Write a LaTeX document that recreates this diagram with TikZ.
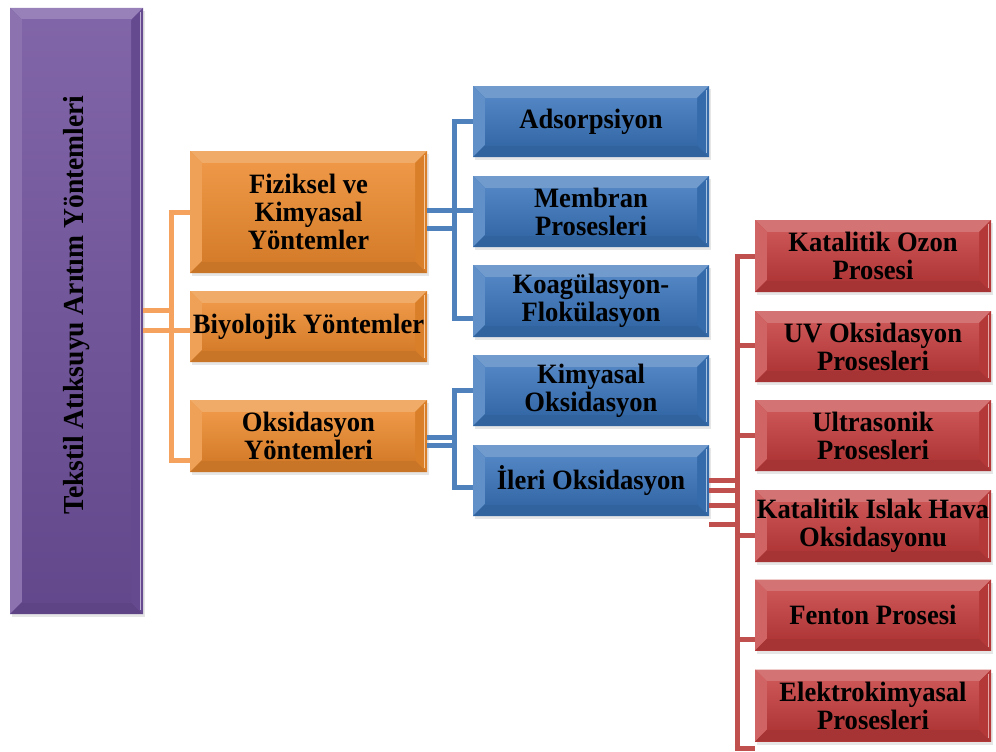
\documentclass[tikz,border=0pt]{standalone}
\usepackage{fontspec}
\newfontfamily\boxfont{Liberation Serif}[FakeStretch=0.95]
\usetikzlibrary{calc,shadows}
\definecolor{org}{HTML}{EC8A2E}
\definecolor{blu}{HTML}{3A74BA}
\definecolor{rdd}{HTML}{C43D3D}
\definecolor{pur}{HTML}{6F509C}
\definecolor{orgline}{HTML}{F5A25E}
\definecolor{bluline}{HTML}{4F81BD}
\definecolor{rddline}{HTML}{C0504D}
\tikzset{
  bev/.style={draw=none, fill=#1, inner sep=0pt, align=center,
    font={\boxfont\bfseries\fontsize{28}{28}\selectfont},
    drop shadow={opacity=0.2, shadow xshift=2pt, shadow yshift=-3pt},
    path picture={
      \coordinate (nw) at (path picture bounding box.north west);
      \coordinate (ne) at (path picture bounding box.north east);
      \coordinate (sw) at (path picture bounding box.south west);
      \coordinate (se) at (path picture bounding box.south east);
      \fill[#1!72!white] (nw) -- (ne) -- ($(ne)+(-12pt,-12pt)$) -- ($(nw)+(12pt,-12pt)$) -- cycle;
      \fill[#1!80!white] (nw) -- ($(nw)+(12pt,-12pt)$) -- ($(sw)+(12pt,12pt)$) -- (sw) -- cycle;
      \fill[#1!85!black] (sw) -- ($(sw)+(12pt,12pt)$) -- ($(se)+(-12pt,12pt)$) -- (se) -- cycle;
      \fill[#1!92!black] (se) -- ($(se)+(-12pt,12pt)$) -- ($(ne)+(-12pt,-12pt)$) -- (ne) -- cycle;
      \fill[#1!45!white] ($(ne)+(-2pt,-4pt)$) rectangle ($(se)+(-3.5pt,4pt)$);
      \shade[top color=#1!88!white, bottom color=#1!90!black] ($(nw)+(12pt,-12pt)$) rectangle ($(se)+(-12pt,12pt)$);
    }},
  obox/.style={bev=org, minimum width=237pt},
  bbox/.style={bev=blu, minimum width=236pt},
  rbox/.style={bev=rdd, minimum width=236pt},
  oc/.style={draw=orgline, line width=5pt},
  bc/.style={draw=bluline, line width=5pt},
  rc/.style={draw=rddline, line width=5pt}
}
\begin{document}
\begin{tikzpicture}[x=1pt,y=-1pt]
\useasboundingbox (0,0) rectangle (996,752);
% root
\node[bev=pur, minimum width=133pt, minimum height=606pt] (P) at (76.5,311) {};
\node[font={\boxfont\bfseries\fontsize{29}{29}\selectfont}, rotate=90, inner sep=0pt] (Pt) at (77,305) {Tekstil Atıksuyu Arıtım Yöntemleri};
% level 1
\node[obox, minimum height=122pt] (F) at (308.5,212) {Fiziksel ve\\Kimyasal\\Yöntemler};
\node[obox, minimum height=71pt] (B) at (308.5,326.5) {Biyolojik Yöntemler};
\node[obox, minimum height=72pt] (O) at (308.5,436) {Oksidasyon\\Yöntemleri};
% level 2
\node[bbox, minimum height=71pt] (A) at (591,121.5) {Adsorpsiyon};
\node[bbox, minimum height=71pt] (M) at (591,211.5) {Membran\\Prosesleri};
\node[bbox, minimum height=72pt] (K) at (591,301) {Koagülasyon-\\Flokülasyon};
\node[bbox, minimum height=71pt] (KO) at (591,390.5) {Kimyasal\\Oksidasyon};
\node[bbox, minimum height=71pt] (IO) at (591,480.5) {İleri Oksidasyon};
% level 3
\node[rbox, minimum height=72pt] (R1) at (873,256) {Katalitik Ozon\\Prosesi};
\node[rbox, minimum height=71pt] (R2) at (873,346.5) {UV Oksidasyon\\Prosesleri};
\node[rbox, minimum height=71pt] (R3) at (873,435.5) {Ultrasonik\\Prosesleri};
\node[rbox, minimum height=72pt] (R4) at (873,526) {Katalitik Islak Hava\\Oksidasyonu};
\node[rbox, minimum height=71pt] (R5) at (873,615) {Fenton Prosesi};
\node[rbox, minimum height=72pt] (R6) at (873,705.5) {Elektrokimyasal\\Prosesleri};
% orange connectors
\draw[oc] ([yshift=1pt]P.east) -- ++(29,0);
\draw[oc] ([yshift=-19pt]P.east) -- ([yshift=-3.5pt]B.west);
\draw[oc] (F.west) -- ++(-18,0) |- ([yshift=-24pt]O.west);
% blue connectors
\draw[bc] ([yshift=2pt]F.east) -- ([yshift=1.5pt]M.west);
\draw[bc] ([yshift=-16pt]F.east) -- ++(28,0);
\draw[bc] (A.west) -- ++(-18,0) |- ([yshift=-17pt]K.west);
\draw[bc] ([yshift=-1pt]O.east) -- ++(28,0);
\draw[bc] ([yshift=-9pt]O.east) -- ++(28,0);
\draw[bc] (KO.west) -- ++(-18,0) |- ([yshift=-6.5pt]IO.west);
% red connectors
\draw[rc] (IO.east) -- ++(29,0);
\draw[rc] ([yshift=-9.5pt]IO.east) -- ++(29,0);
\draw[rc] ([yshift=-24.5pt]IO.east) -- ++(29,0);
\draw[rc] ([yshift=-43.5pt]IO.east) -- ++(29,0);
\draw[rc] (R1.west) -- ++(-17,0) |- ([yshift=-42.5pt]R6.west);
\draw[rc] ([yshift=1.5pt]R2.west) -- ++(-17,0);
\draw[rc] (R3.west) -- ++(-17,0);
\draw[rc] ([yshift=-9pt]R4.west) -- ++(-17,0);
\draw[rc] ([yshift=-24.5pt]R5.west) -- ++(-17,0);
\end{tikzpicture}
\end{document}
